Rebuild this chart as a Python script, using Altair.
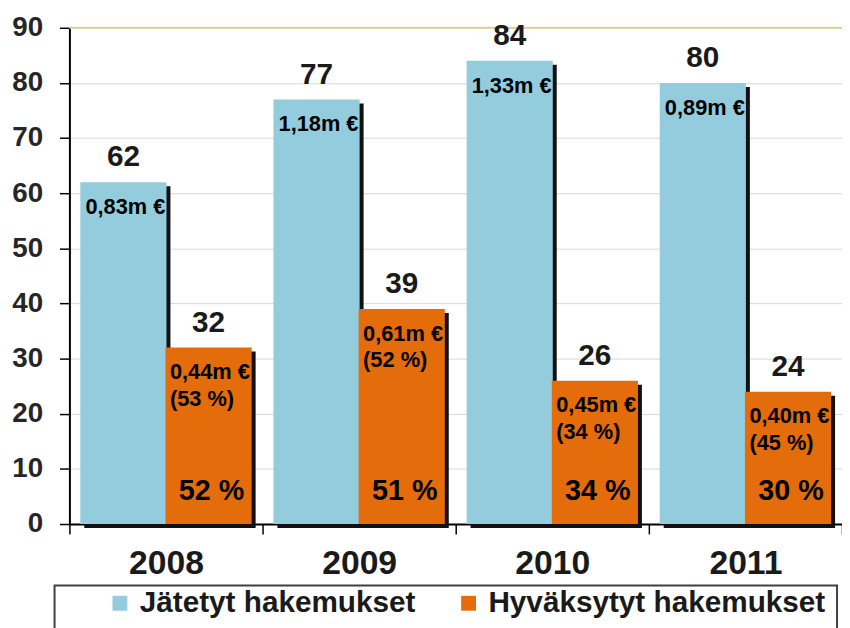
import altair as alt
import pandas as pd

# ---- data ----
years = ["2008", "2009", "2010", "2011"]
series_names = ["Jätetyt hakemukset", "Hyväksytyt hakemukset"]
submitted = [62, 77, 84, 80]
approved = [32, 39, 26, 24]
submitted_eur = ["0,83m €", "1,18m €", "1,33m €", "0,89m €"]
approved_eur = ["0,44m €", "0,61m €", "0,45m €", "0,40m €"]
approved_eur_share = ["(53 %)", "(52 %)", "(34 %)", "(45 %)"]
approval_rate = ["52 %", "51 %", "34 %", "30 %"]
y_ticks = [0, 10, 20, 30, 40, 50, 60, 70, 80, 90]
y_max = [90]
colors = ["#93CDDD", "#E46C0A"]

rows = []
for i, yr in enumerate(years):
    rows.append({"year": yr, "series": series_names[0], "value": submitted[i],
                 "inside": submitted_eur[i], "rate": ""})
    rows.append({"year": yr, "series": series_names[1], "value": approved[i],
                 "inside": approved_eur[i] + "\n" + approved_eur_share[i],
                 "rate": approval_rate[i]})
df = pd.DataFrame(rows)

FONT = "Liberation Sans"
TXT = "#1a1a1a"
W, H = 780, 501
BAR = 87
OFF = 43

x_enc = alt.X("year:N", sort=years, title=None,
              scale=alt.Scale(paddingInner=0, paddingOuter=0))
y_enc = alt.Y("value:Q", title=None,
              scale=alt.Scale(domain=[0, 90], nice=False),
              axis=alt.Axis(values=y_ticks))

base = alt.Chart(df).encode(x=x_enc, y=y_enc)
blue = base.transform_filter(alt.datum.series == series_names[0])
orange = base.transform_filter(alt.datum.series == series_names[1])

color_enc = alt.Color(
    "series:N", title=None,
    scale=alt.Scale(domain=series_names, range=colors),
    legend=alt.Legend(orient="none", legendX=36, legendY=566, direction="horizontal",
                      symbolType="square", symbolSize=225, symbolStrokeWidth=0,
                      labelFont=FONT, labelFontSize=30, labelFontWeight="bold",
                      labelColor=TXT, labelOffset=5, labelLimit=500,
                      columnPadding=38, padding=0),
)

shadow_b = blue.mark_bar(width=BAR, xOffset=-OFF + 4, yOffset=4, color="#111111")
shadow_o = orange.mark_bar(width=BAR, xOffset=OFF + 4, yOffset=4, color="#111111")
bar_b = blue.mark_bar(width=BAR, xOffset=-OFF).encode(color=color_enc)
bar_o = orange.mark_bar(width=BAR, xOffset=OFF).encode(color=color_enc)

top_style = dict(font=FONT, fontSize=30, fontWeight="bold", color=TXT, baseline="alphabetic")
top_b = blue.mark_text(xOffset=-OFF, dy=-16, **top_style).encode(text="value:Q")
top_o = orange.mark_text(xOffset=OFF, dy=-16, **top_style).encode(text="value:Q")

in_style = dict(font=FONT, fontSize=22, fontWeight="bold", color="#000000", baseline="alphabetic")
in_b = blue.mark_text(xOffset=-OFF + 2, dy=32, **in_style).encode(text="inside:N")
in_o = orange.mark_text(xOffset=4, dy=32, align="left", lineBreak="\n", lineHeight=27,
                        **in_style).encode(text="inside:N")

rate_o = orange.mark_text(xOffset=OFF + 3, dy=-24, font=FONT, fontSize=29, fontWeight="bold",
                          color="#000000", baseline="alphabetic").encode(
    y=alt.datum(0), text="rate:N")

top_line = alt.Chart(pd.DataFrame({"top": y_max})).mark_rule(
    color="#d9cf9f", strokeWidth=2).encode(y=alt.Y("top:Q", title=None))

frame = alt.Chart(pd.DataFrame({"top": y_max})).mark_rect(
    fill="white", fillOpacity=0, stroke="#404040", strokeWidth=2).encode(
    x=alt.value(-15), x2=alt.value(775), y=alt.value(563), y2=alt.value(640))

chart = alt.layer(
    top_line, shadow_b, shadow_o, bar_b, bar_o, top_b, top_o, in_b, in_o, rate_o, frame
).properties(
    width=W, height=H,
    padding={"left": 62, "top": 17, "right": 0, "bottom": 102},
    autosize=alt.AutoSizeParams(type="none"),
).configure_view(
    stroke=None
).configure_axisX(
    labelAngle=0, labelFont=FONT, labelFontSize=34, labelFontWeight="bold",
    labelColor=TXT, labelPadding=13, tickBand="extent", tickSize=10,
    tickColor="#000000", tickWidth=1.5, domainColor="#000000", domainWidth=2,
    zindex=1, grid=False,
).configure_axisY(
    labelFont=FONT, labelFontSize=28, labelFontWeight="bold", labelColor="#262626",
    labelPadding=17, tickSize=10, tickColor="#000000", tickWidth=1.5,
    domainColor="#000000", domainWidth=2, gridColor="#d9d9d9", gridWidth=1,
)

chart.save("out.html", embed_options={"renderer": "svg", "actions": False})
